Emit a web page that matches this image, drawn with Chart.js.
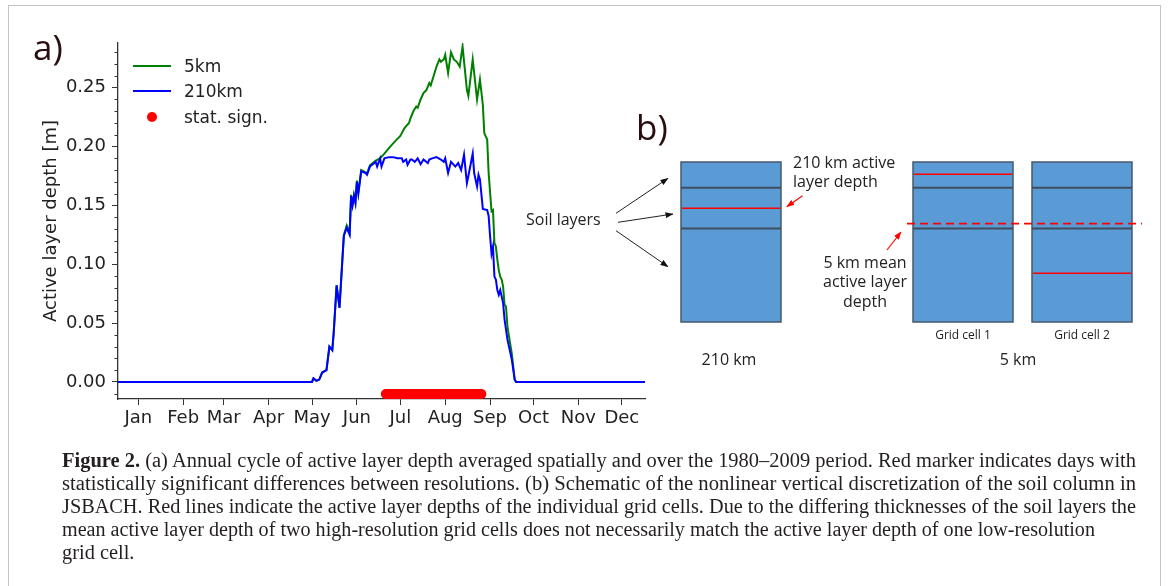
<!DOCTYPE html>
<html>
<head>
<meta charset="utf-8">
<script src="https://cdn.jsdelivr.net/npm/chart.js@4.4.1/dist/chart.umd.min.js"></script>
<style>
  body { margin: 0; background: #fff; width: 1168px; height: 586px; overflow: hidden; position: relative; }
  #frame { position: absolute; left: 8px; top: 5px; width: 1153px; height: 620px; border: 1px solid #c4c4c4; box-sizing: border-box; }
  #chartBox { position: absolute; left: 0; top: 0; width: 660px; height: 440px; }
  .lbl { position: absolute; font-family: "Open Sans", sans-serif; color: #2a0e0e; font-size: 35px; line-height: 1; }
  .leg { position: absolute; font-family: "DejaVu Sans", sans-serif; font-size: 17px; color: #222; line-height: 20px; }
  .legLine { position: absolute; height: 2px; }
  #caption { position: absolute; left: 62px; top: 449px; font-family: "Liberation Serif", serif; font-size: 20px; color: #231f20; }
  #caption div { height: 23px; line-height: 23px; white-space: nowrap; }
  #caption span { display: inline-block; transform-origin: 0 50%; }
  svg text { font-family: "Open Sans", sans-serif; fill: #222; }
</style>
</head>
<body>
<div id="frame"></div>
<div id="chartBox"><canvas id="graficoALD" width="660" height="440"></canvas></div>

<div class="lbl" style="left:33px; top:29px;">a)</div>
<div class="lbl" style="left:636px; top:109px;">b)</div>

<div class="legLine" style="left:133px; top:65px; width:38px; background:#008000;"></div>
<div class="leg" style="left:184px; top:56px;">5km</div>
<div class="legLine" style="left:133px; top:90px; width:38px; background:#0000ff;"></div>
<div class="leg" style="left:184px; top:81px;">210km</div>
<div style="position:absolute; left:147px; top:112px; width:10px; height:10px; border-radius:50%; background:#ff0000;"></div>
<div class="leg" style="left:184px; top:107px;">stat. sign.</div>

<svg width="1168" height="586" style="position:absolute; left:0; top:0;">
  <defs>
    <marker id="setaPreta" markerWidth="8" markerHeight="6" refX="7.5" refY="3" orient="auto" markerUnits="userSpaceOnUse">
      <path d="M0,0 L8,3 L0,6 z" fill="#111"/>
    </marker>
    <marker id="setaVermelha" markerWidth="8" markerHeight="6" refX="7.5" refY="3" orient="auto" markerUnits="userSpaceOnUse">
      <path d="M0,0 L8,3 L0,6 z" fill="#ff0000"/>
    </marker>
  </defs>

  <!-- colunas de solo -->
  <g stroke="#45586d" stroke-width="1.5" fill="#5b9bd5">
    <rect x="681" y="162" width="100" height="160"/>
    <rect x="913" y="162" width="100" height="160"/>
    <rect x="1032" y="162" width="100" height="160"/>
  </g>
  <g stroke="#3f4e5f" stroke-width="2">
    <line x1="681" y1="187.7" x2="781" y2="187.7"/>
    <line x1="681" y1="228.5" x2="781" y2="228.5"/>
    <line x1="913" y1="187.7" x2="1013" y2="187.7"/>
    <line x1="913" y1="228.5" x2="1013" y2="228.5"/>
    <line x1="1032" y1="187.7" x2="1132" y2="187.7"/>
    <line x1="1032" y1="228.5" x2="1132" y2="228.5"/>
  </g>
  <g stroke="#ff0000" stroke-width="1.5">
    <line x1="682" y1="208.3" x2="780" y2="208.3"/>
    <line x1="914" y1="174.3" x2="1012" y2="174.3"/>
    <line x1="1033" y1="273.3" x2="1131" y2="273.3"/>
  </g>
  <line x1="907" y1="223.7" x2="1142" y2="223.7" stroke="#ff0000" stroke-width="1.8" stroke-dasharray="8 5"/>

  <!-- setas -->
  <g stroke="#222" stroke-width="1">
    <line x1="616" y1="213.3" x2="668" y2="178.3" marker-end="url(#setaPreta)"/>
    <line x1="618" y1="222.3" x2="673" y2="214" marker-end="url(#setaPreta)"/>
    <line x1="616" y1="230.7" x2="668" y2="266.7" marker-end="url(#setaPreta)"/>
  </g>
  <g stroke="#ff0000" stroke-width="1.2">
    <line x1="802.5" y1="195.7" x2="786.8" y2="206.7" marker-end="url(#setaVermelha)"/>
    <line x1="887" y1="250" x2="901" y2="232" marker-end="url(#setaVermelha)"/>
  </g>

  <!-- textos -->
  <text x="526" y="225" font-size="16">Soil layers</text>
  <text x="793" y="167.5" font-size="16">210 km active</text>
  <text x="793" y="187" font-size="16">layer depth</text>
  <text x="865" y="267.5" font-size="16" text-anchor="middle">5 km mean</text>
  <text x="865" y="287" font-size="16" text-anchor="middle">active layer</text>
  <text x="865" y="306.5" font-size="16" text-anchor="middle">depth</text>
  <text x="963" y="339.3" font-size="12" text-anchor="middle">Grid cell 1</text>
  <text x="1082" y="339.3" font-size="12" text-anchor="middle">Grid cell 2</text>
  <text x="729" y="364.5" font-size="16" text-anchor="middle">210 km</text>
  <text x="1018" y="364.5" font-size="16" text-anchor="middle">5 km</text>
</svg>

<div id="caption">
  <div><span data-w="1074"><b>Figure 2.</b> (a) Annual cycle of active layer depth averaged spatially and over the 1980–2009 period. Red marker indicates days with</span></div>
  <div><span data-w="1074">statistically significant differences between resolutions. (b) Schematic of the nonlinear vertical discretization of the soil column in</span></div>
  <div><span data-w="1074">JSBACH. Red lines indicate the active layer depths of the individual grid cells. Due to the differing thicknesses of the soil layers the</span></div>
  <div><span data-w="1033">mean active layer depth of two high-resolution grid cells does not necessarily match the active layer depth of one low-resolution</span></div>
  <div><span>grid cell.</span></div>
</div>

<script>
// dia do ano e profundidade (m)
const dias210km = [1, 135, 136, 137, 138, 140, 142, 145, 147, 149, 150, 152, 154, 156, 157, 159, 161, 162, 163, 164, 165, 166, 167, 169, 172, 173, 175, 177, 179, 180, 182, 183, 185, 188, 191, 194, 197, 198, 200, 201, 203, 204, 206, 208, 210, 212, 215, 216, 218, 221, 224, 226, 227, 229, 231, 234, 236, 238, 240, 242, 243, 246, 247, 249, 250, 251, 253, 256, 257, 258, 259, 260, 261, 262, 263, 264, 265, 267, 268, 270, 273, 275, 276, 365];
const prof210km = [0, 0, 0.003, 0.002, 0.001, 0.002, 0.008, 0.010, 0.030, 0.027, 0.042, 0.082, 0.063, 0.104, 0.124, 0.131, 0.125, 0.158, 0.150, 0.158, 0.152, 0.170, 0.160, 0.179, 0.1775, 0.176, 0.183, 0.185, 0.187, 0.183, 0.190, 0.183, 0.190, 0.191, 0.191, 0.190, 0.190, 0.187, 0.189, 0.1845, 0.189, 0.189, 0.187, 0.190, 0.185, 0.189, 0.186, 0.189, 0.190, 0.191, 0.189, 0.187, 0.190, 0.1775, 0.187, 0.183, 0.186, 0.180, 0.193, 0.169, 0.175, 0.194, 0.1775, 0.166, 0.176, 0.172, 0.147, 0.146, 0.141, 0.124, 0.109, 0.115, 0.0895, 0.087, 0.078, 0.074, 0.078, 0.067, 0.053, 0.036, 0.019, 0.002, 0, 0];

const dias5km = [1, 135, 136, 137, 138, 140, 142, 145, 147, 149, 150, 152, 154, 156, 157, 159, 161, 162, 163, 164, 165, 166, 167, 169, 172, 173, 175, 177, 179, 182, 185, 189, 192, 196, 199, 202, 203, 205, 207, 208, 210, 212, 214, 216, 217, 219, 221, 223, 224, 226, 227, 229, 231, 233, 235, 237, 239, 242, 243, 246, 247, 249, 251, 253, 254, 255, 256, 257, 259, 260, 261, 262, 263, 264, 265, 266, 267, 268, 269, 270, 273, 275, 276, 365];
const prof5km = [0, 0, 0.003, 0.002, 0.001, 0.002, 0.008, 0.010, 0.030, 0.027, 0.042, 0.082, 0.063, 0.105, 0.125, 0.133, 0.127, 0.159, 0.151, 0.159, 0.153, 0.171, 0.161, 0.180, 0.178, 0.177, 0.184, 0.186, 0.188, 0.190, 0.194, 0.200, 0.204, 0.209, 0.216, 0.220, 0.224, 0.230, 0.234, 0.233, 0.240, 0.2455, 0.248, 0.254, 0.252, 0.260, 0.268, 0.274, 0.272, 0.274, 0.278, 0.2625, 0.280, 0.274, 0.272, 0.268, 0.285, 0.248, 0.243, 0.274, 0.2625, 0.240, 0.257, 0.2355, 0.2115, 0.2086, 0.206, 0.1775, 0.145, 0.146, 0.118, 0.115, 0.104, 0.095, 0.0895, 0.087, 0.081, 0.0655, 0.064, 0.047, 0.024, 0.002, 0, 0];

// dias com diferença estatisticamente significativa
const diasSignificativos = [186, 187, 188, 189, 190, 191, 192, 193, 194, 195, 196, 197, 198, 199, 200, 201, 202, 203, 204, 205, 206, 207, 208, 209, 210, 211, 212, 213, 214, 215, 216, 217, 218, 219, 220, 221, 222, 223, 224, 225, 226, 227, 228, 229, 230, 231, 232, 233, 234, 235, 236, 237, 238, 239, 240, 241, 242, 243, 244, 245, 246, 247, 248, 249, 250, 251, 252];
const nivelMarcador = -0.0102;

const mesesTicks = [15, 46, 74, 105, 135, 166, 196, 227, 258, 288, 319, 349];
const mesesLabels = ["Jan", "Feb", "Mar", "Apr", "May", "Jun", "Jul", "Aug", "Sep", "Oct", "Nov", "Dec"];
const yTicks = [0, 0.05, 0.10, 0.15, 0.20, 0.25];
const yTicksMenores = [-0.01, 0.01, 0.02, 0.03, 0.04, 0.06, 0.07, 0.08, 0.09, 0.11, 0.12, 0.13, 0.14, 0.16, 0.17, 0.18, 0.19, 0.21, 0.22, 0.23, 0.24, 0.26, 0.27, 0.28];

function montarPontos(dias, valores) {
  return dias.map((d, i) => ({ x: d, y: valores[i] }));
}

const fonteEixo = { family: "DejaVu Sans", size: 18 };

const ticksMenores = {
  id: "ticksMenores",
  afterDraw(chart) {
    const y = chart.scales.y;
    const c = chart.ctx;
    c.save();
    c.strokeStyle = "#333";
    c.lineWidth = 1;
    yTicksMenores.forEach((v) => {
      const p = Math.round(y.getPixelForValue(v)) + 0.5;
      c.beginPath();
      c.moveTo(y.right - 3.5, p);
      c.lineTo(y.right, p);
      c.stroke();
    });
    c.restore();
  },
};

const ctx = document.getElementById("graficoALD").getContext("2d");

new Chart(ctx, {
  type: "line",
  data: {
    datasets: [
      {
        label: "stat. sign.",
        type: "scatter",
        data: diasSignificativos.map((d) => ({ x: d, y: nivelMarcador })),
        backgroundColor: "#ff0000",
        borderWidth: 0,
        pointRadius: 5,
        showLine: false,
        clip: false,
        order: 0,
      },
      {
        label: "210km",
        data: montarPontos(dias210km, prof210km),
        borderColor: "#0000ff",
        borderWidth: 2,
        pointRadius: 0,
        tension: 0,
        order: 1,
      },
      {
        label: "5km",
        data: montarPontos(dias5km, prof5km),
        borderColor: "#008000",
        borderWidth: 2,
        pointRadius: 0,
        tension: 0,
        order: 2,
      },
    ],
  },
  options: {
    responsive: false,
    animation: false,
    devicePixelRatio: 1,
    layout: { padding: { top: 43, right: 15, left: 0, bottom: 0 } },
    plugins: {
      legend: { display: false },
      tooltip: { enabled: false },
    },
    scales: {
      x: {
        type: "linear",
        min: 1,
        max: 365,
        afterBuildTicks: (s) => {
          s.ticks = mesesTicks.map((v) => ({ value: v }));
        },
        afterFit: (s) => {
          s.height = 41;
        },
        ticks: {
          callback: (v, i) => mesesLabels[i],
          color: "#222",
          font: fonteEixo,
          padding: 3,
          maxRotation: 0,
          autoSkip: false,
        },
        grid: { drawOnChartArea: false, drawTicks: true, tickLength: 6, color: "#333" },
        border: { color: "#333", width: 1.3 },
      },
      y: {
        type: "linear",
        min: -0.0145,
        max: 0.288,
        afterBuildTicks: (s) => {
          s.ticks = yTicks.map((v) => ({ value: v }));
        },
        afterFit: (s) => {
          s.width = 118;
        },
        ticks: {
          callback: (v) => Number(v).toFixed(2),
          color: "#222",
          font: fonteEixo,
          padding: 6,
        },
        title: {
          display: true,
          text: "Active layer depth [m]",
          color: "#222",
          font: fonteEixo,
          padding: { top: 41, bottom: 0 },
        },
        grid: { drawOnChartArea: false, drawTicks: true, tickLength: 6, color: "#333" },
        border: { color: "#333", width: 1.3 },
      },
    },
  },
  plugins: [ticksMenores],
});

// ajusta a largura de cada linha da legenda da figura
const linhas = document.querySelectorAll("#caption span");
let escalas = [];
linhas.forEach((sp) => {
  const alvo = Number(sp.dataset.w || 0);
  if (!alvo) return;
  const e = alvo / sp.getBoundingClientRect().width;
  escalas.push(e);
  sp.style.transform = `scaleX(${e})`;
});
const media = escalas.reduce((a, b) => a + b, 0) / escalas.length;
linhas.forEach((sp) => {
  if (!sp.dataset.w) sp.style.transform = `scaleX(${media})`;
});
</script>
</body>
</html>
